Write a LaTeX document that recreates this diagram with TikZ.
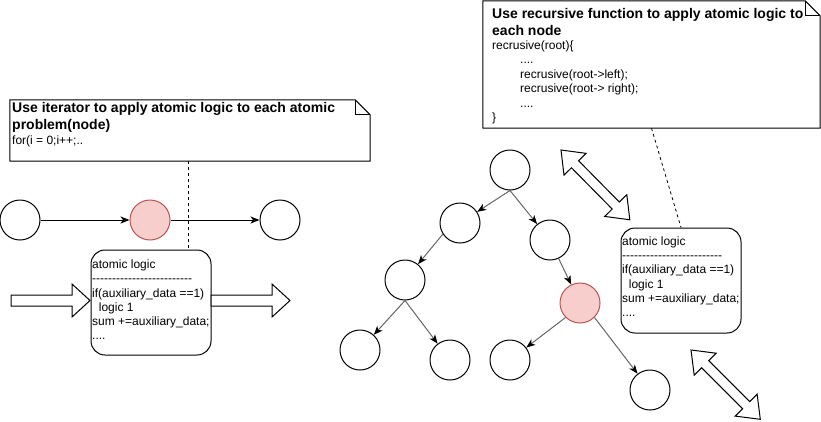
\documentclass[tikz,border=0pt]{standalone}
\usepackage{fontspec}
\setmainfont{Liberation Sans}[Ligatures=TeXOff]
\usetikzlibrary{arrows.meta,calc}
\definecolor{redfill}{HTML}{F8CECC}
\definecolor{redline}{HTML}{B85450}
\definecolor{edgegray}{HTML}{666666}
\begin{document}
\begin{tikzpicture}[x=1pt,y=-1pt,
  circ/.style={circle,draw=black,line width=1pt,minimum size=40pt,inner sep=0pt},
  hot/.style={circ,fill=redfill,draw=redline},
  tipped/.style={-{Stealth[length=9pt,width=7pt,inset=2.5pt,color=black]}},
  hedge/.style={tipped,line width=1pt,draw=black},
  tedge/.style={tipped,line width=1pt,draw=edgegray},
  atom/.style={draw,line width=1pt,rounded corners=14pt,minimum width=120pt,minimum height=105pt,inner sep=0pt},
  noteframe/.style={inner sep=0pt},
  notetitle/.style={anchor=north west,inner sep=0pt,align=left,font=\bfseries\fontsize{14}{17}\selectfont},
  notebody/.style={anchor=north west,inner sep=0pt,align=left,font=\fontsize{12}{14.4}\selectfont},
  atomtext/.style={anchor=north west,inner sep=0pt,align=left,font=\fontsize{12}{14.2}\selectfont},
  outline/.style={draw=black,line width=1pt,fill=white,line join=miter},
  dashline/.style={draw=black,line width=0.8pt,dash pattern=on 3pt off 3pt}
]
\useasboundingbox (0,0) rectangle (821,421);

% ---------- left part ----------
\node[noteframe,minimum width=360pt,minimum height=61pt] (note1) at (190,130.5) {};
\draw[outline] (note1.north west) -- ([xshift=-15pt]note1.north east) -- ([yshift=-15pt]note1.north east) -- (note1.south east) -- (note1.south west) -- cycle;
\draw[line width=1pt] ([xshift=-15pt]note1.north east) -- ([xshift=-15pt,yshift=-15pt]note1.north east) -- ([yshift=-15pt]note1.north east);
\node[notetitle] (note1title) at (12,101.7) {Use iterator to apply atomic logic to each atomic\\problem(node)};
\node[notebody] (note1body) at (12,136) {for(i = 0;i++;..};

\node[circ] (a1) at (20,220) {};
\node[hot] (a2) at (150,220) {};
\node[circ] (a3) at (280,220) {};
\draw[hedge] (a1) -- (a2);
\draw[hedge] (a2) -- (a3);

\node[atom] (atom1) at (151,302.5) {};
\node[atomtext] (atom1text) at (92,259.8) {atomic logic\\-------------------------\\if(auxiliary\_data ==1)\\\hspace*{6.7pt}logic 1\\sum +=auxiliary\_data;\\....};
\draw[dashline] ([xshift=-2pt]note1.south) -- ([xshift=37pt]atom1.north);

\draw[outline] (11,295) -- (72,295) -- (72,284) -- (90,300.5) -- (72,317) -- (72,306) -- (11,306) -- cycle;
\draw[outline] (211,295) -- (272,295) -- (272,284) -- (290,300.5) -- (272,317) -- (272,306) -- (211,306) -- cycle;

% ---------- right part ----------
\node[noteframe,minimum width=337pt,minimum height=127pt] (note2) at (651.5,64.5) {};
\draw[outline] (note2.north west) -- ([xshift=-15pt]note2.north east) -- ([yshift=-15pt]note2.north east) -- (note2.south east) -- (note2.south west) -- cycle;
\draw[line width=1pt] ([xshift=-15pt]note2.north east) -- ([xshift=-15pt,yshift=-15pt]note2.north east) -- ([yshift=-15pt]note2.north east);
\node[notetitle] (note2title) at (492,8.3) {Use recursive function to apply atomic logic to\\each node};
\node[notebody] (note2body) at (492,40.5) {recrusive(root)\{\\\hspace*{28pt}....\\\hspace*{28pt}recrusive(root->left);\\\hspace*{28pt}recrusive(root-> right);\\\hspace*{28pt}....\\\}};

\node[circ] (root) at (510,170) {};
\node[circ] (l1) at (460,223) {};
\node[circ] (r1) at (550,240) {};
\node[circ] (ll) at (405,280) {};
\node[hot] (red) at (580,303) {};
\node[circ] (lll) at (360,350) {};
\node[circ] (llr) at (450,360) {};
\node[circ] (redl) at (510,360) {};
\node[circ] (redr) at (650,390) {};
\draw[tedge] (root.south) -- (l1);
\draw[tedge] (root.south) -- (r1);
\draw[tedge] (l1.213) -- (ll);
\draw[tedge] (r1.-65) -- (red);
\draw[tedge] (ll.south) -- (lll);
\draw[tedge] (ll.south) -- (llr);
\draw[tedge] (red.225) -- (redl);
\draw[tedge] (red.-45) -- (redr);

\node[atom] (atom2) at (681,280.5) {};
\node[atomtext] (atom2text) at (622,236.5) {atomic logic\\-------------------------\\if(auxiliary\_data ==1)\\\hspace*{6.7pt}logic 1\\sum +=auxiliary\_data;\\....};
\draw[dashline] (note2.south) -- (atom2.north);

\begin{scope}[shift={(561,150)},rotate=-45.4]
\draw[outline] (0,0) -- (20,15.5) -- (20,5) -- (78,5) -- (78,15.5) -- (98,0) -- (78,-15.5) -- (78,-5) -- (20,-5) -- (20,-15.5) -- cycle;
\end{scope}
\begin{scope}[shift={(691,350)},rotate=-45]
\draw[outline] (0,0) -- (20,15.5) -- (20,5) -- (78,5) -- (78,15.5) -- (98,0) -- (78,-15.5) -- (78,-5) -- (20,-5) -- (20,-15.5) -- cycle;
\end{scope}
\end{tikzpicture}
\end{document}
